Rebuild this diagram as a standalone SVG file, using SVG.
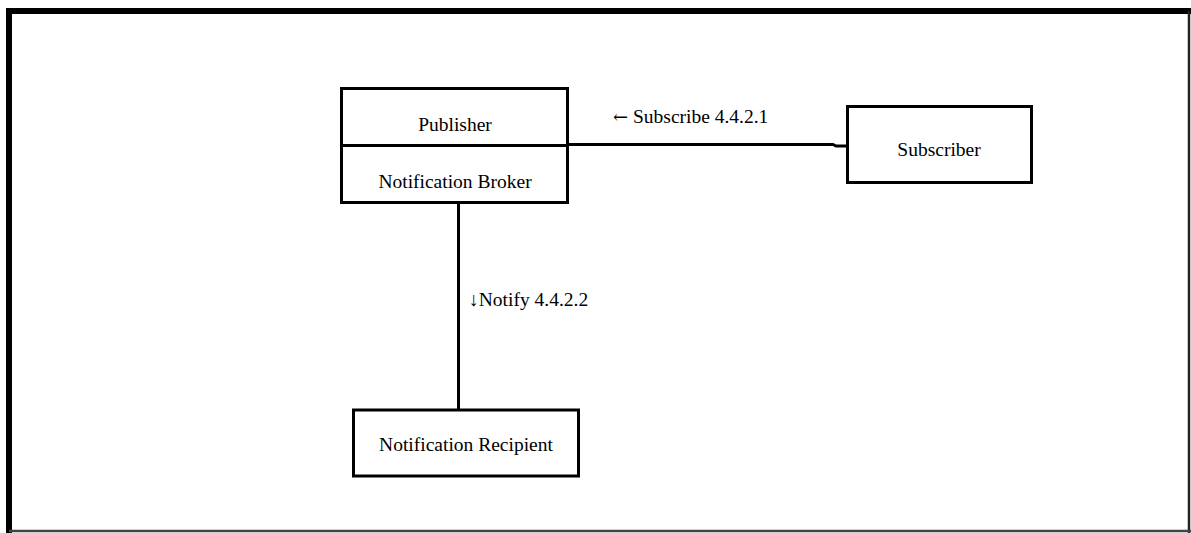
<svg xmlns="http://www.w3.org/2000/svg" width="1191" height="533" viewBox="0 0 1191 533">
<style>
.box{fill:#fff;stroke:#000;stroke-width:3}
.lbl{font-family:"Liberation Serif","Times New Roman",serif;font-size:19.5px;fill:#000}
.arr{font-family:"DejaVu Serif","Liberation Serif",serif;font-size:18px}
.c{text-anchor:middle}
.conn{fill:none;stroke:#000;stroke-width:3}
</style>
<rect x="0" y="0" width="1191" height="533" fill="#fff"/>
<g id="frame">
<line x1="9" y1="11" x2="1191" y2="11" stroke="#000" stroke-width="6"/>
<line x1="9" y1="8" x2="9" y2="533" stroke="#000" stroke-width="6"/>
<line x1="1189" y1="11" x2="1189" y2="533" stroke="#222" stroke-width="2.5"/>
<line x1="9" y1="531" x2="1191" y2="531" stroke="#444" stroke-width="2.5"/>
</g>
<g id="connectors">
<path class="conn" d="M567.5 144.5 H833 L836 146 H847.5"/>
<line class="conn" x1="458.5" y1="202.5" x2="458.5" y2="410"/>
<text class="lbl" x="613" y="123"><tspan class="arr">←</tspan> Subscribe 4.4.2.1</text>
<text class="lbl" x="469" y="306">↓Notify 4.4.2.2</text>
</g>
<g id="publisher-broker">
<rect class="box" x="341.5" y="88.5" width="226" height="114"/>
<line x1="341.5" y1="145.5" x2="567.5" y2="145.5" stroke="#000" stroke-width="3"/>
<text class="lbl c" x="455" y="131">Publisher</text>
<text class="lbl c" x="455" y="188">Notification Broker</text>
</g>
<g id="subscriber">
<rect class="box" x="847.5" y="106.5" width="184" height="76"/>
<text class="lbl c" x="939" y="156">Subscriber</text>
</g>
<g id="recipient">
<rect class="box" x="353.5" y="410" width="225" height="66"/>
<text class="lbl c" x="466" y="451">Notification Recipient</text>
</g>
</svg>
